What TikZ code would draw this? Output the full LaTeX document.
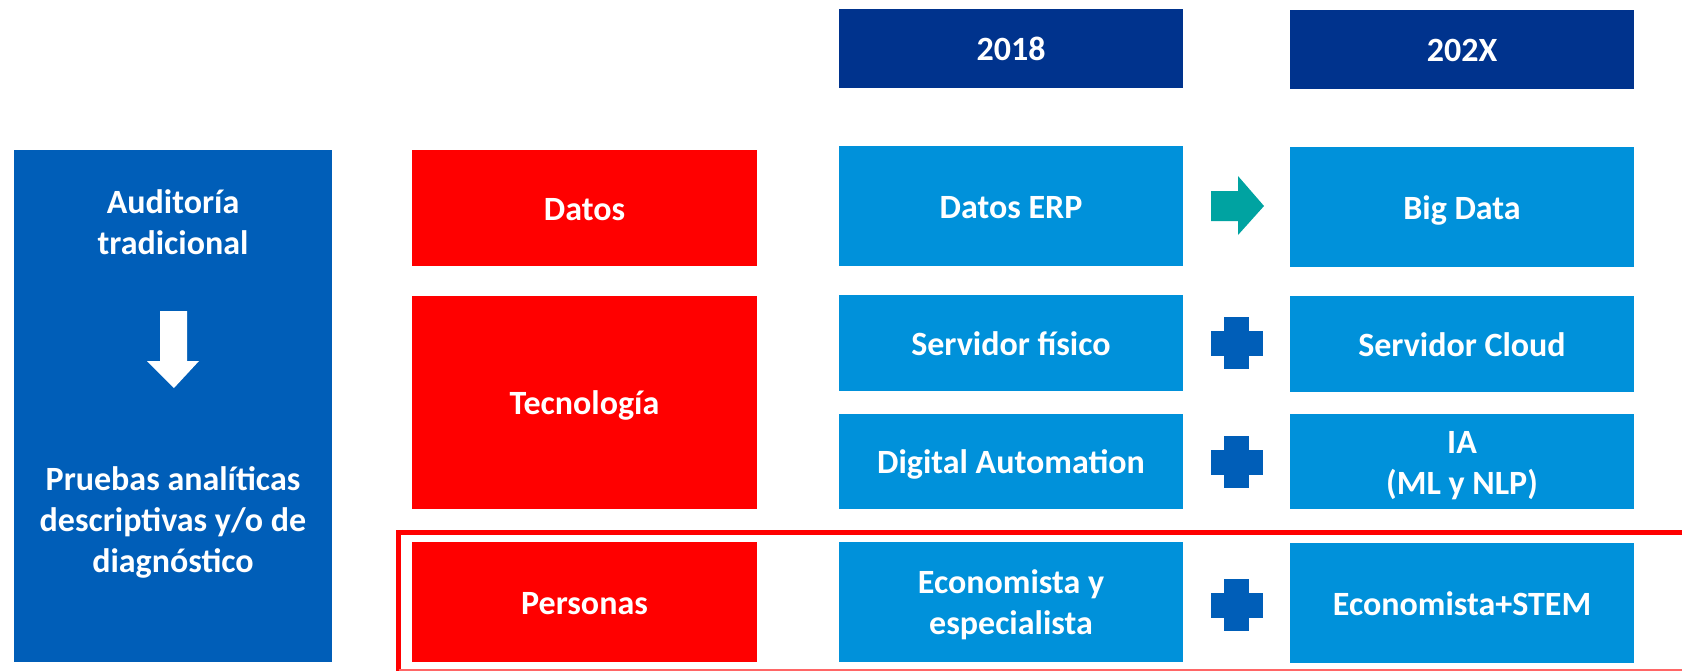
\documentclass[tikz,border=0pt]{standalone}
\usepackage{fontspec}
\setmainfont{Carlito}
\definecolor{kNavy}{HTML}{00338D}
\definecolor{kMid}{HTML}{005EB8}
\definecolor{kLight}{HTML}{0091DA}
\definecolor{kTeal}{HTML}{00A3A1}
\definecolor{kRed}{HTML}{FF0000}
\tikzset{
  blk/.style={draw=none, inner sep=0pt, text=white, align=center,
    font=\bfseries\fontsize{34}{41}\selectfont, text height=30pt, text depth=6pt},
  twolines/.style={text height=71pt},
  threelines/.style={text height=112pt},
  hdr/.style={blk, fill=kNavy, minimum width=344pt, minimum height=79pt},
  cat/.style={blk, fill=kRed, minimum width=345pt},
  cell/.style={blk, fill=kLight, minimum width=344pt},
}
\begin{document}
\begin{tikzpicture}[x=1pt,y=-1pt]
\useasboundingbox (0,0) rectangle (1682,670);
% left box
\node[blk, fill=kMid, minimum width=318pt, minimum height=512pt] (left) at (173,406) {};
\node[blk, twolines] (aud) at (173,221.5) {Auditoría\\tradicional};
\node[blk, threelines] (pru) at (173,519) {Pruebas analíticas\\descriptivas y/o de\\diagnóstico};
\fill[white] (160,311) -- (187,311) -- (187,361) -- (199,361) -- (174,388) -- (147,361) -- (160,361) -- cycle;
% headers
\node[hdr] (h18) at (1011,48.5) {2018};
\node[hdr] (h2x) at (1462,49.5) {202X};
% categories
\node[cat, minimum height=116pt] (datos) at (584.5,208) {Datos};
\node[cat, minimum height=213pt] (tec) at (584.5,402.5) {Tecnología};
\node[cat, minimum height=120pt] (pers) at (584.5,602) {Personas};
% 2018 column
\node[cell, minimum height=120pt] (erp) at (1011,206) {Datos ERP};
\node[cell, minimum height=96pt] (sfis) at (1011,343) {Servidor físico};
\node[cell, minimum height=95pt] (dig) at (1011,461.5) {Digital Automation};
\node[cell, twolines, minimum height=120pt] (eco) at (1011,602) {Economista y\\especialista};
% 202X column
\node[cell, minimum height=120pt] (big) at (1462,207) {Big Data};
\node[cell, minimum height=96pt] (scl) at (1462,344) {Servidor Cloud};
\node[cell, twolines, minimum height=95pt] (ia) at (1462,461.5) {IA\\(ML y NLP)};
\node[cell, minimum height=120pt] (stem) at (1462,603) {Economista+STEM};
% green arrow
\fill[kTeal] (1211,191) -- (1238,191) -- (1238,176) -- (1264,206) -- (1238,235) -- (1238,221) -- (1211,221) -- cycle;
% plus signs
\foreach \cy in {343,462,605}{
  \fill[kMid] (1224,\cy-26) rectangle (1249,\cy+26);
  \fill[kMid] (1211,\cy-12.5) rectangle (1263,\cy+12.5);
}
% red frame
\draw[kRed, line width=5pt] (398.5,671) -- (398.5,532) -- (1700,532);
\draw[kRed!60, line width=2pt] (398.5,670) -- (1700,670);
\end{tikzpicture}
\end{document}
